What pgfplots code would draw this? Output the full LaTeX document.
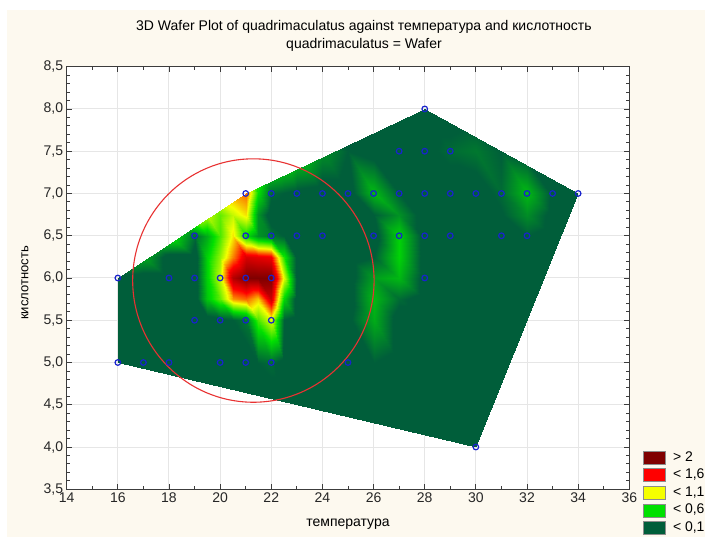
\documentclass[border=0pt]{standalone}
\usepackage{fontspec}
\setmainfont{Liberation Sans}
\usepackage{pgfplots}
\pgfplotsset{compat=1.18}
\definecolor{cream}{RGB}{253,249,239}
\definecolor{dkgreen}{RGB}{0,94,58}
\definecolor{brgreen}{RGB}{0,224,0}
\definecolor{wyellow}{RGB}{245,255,0}
\definecolor{wred}{RGB}{255,0,0}
\definecolor{dkred}{RGB}{128,0,0}
\definecolor{ptblue}{RGB}{25,35,205}
\definecolor{axgray}{RGB}{60,60,60}
\definecolor{gridgray}{RGB}{230,230,230}
\definecolor{circred}{RGB}{232,50,50}
\begin{document}
\begin{tikzpicture}
\path[use as bounding box, fill=white] (-66.7pt,-47.7pt) rectangle (638.3pt,489.3pt);
\fill[cream] (-59.7pt,-47.7pt) rectangle (638.3pt,479.3pt);
\begin{axis}[
  at={(0pt,0pt)}, anchor=south west,
  scale only axis, width=562.6pt, height=422.6pt,
  xmin=14, xmax=36, ymin=3.5, ymax=8.5,
  xtick={14,16,...,36}, ytick={3.5,4,...,8.5},
  minor x tick num=1, minor y tick num=4,
  tick align=inside, xtick pos=both, ytick pos=both,
  major tick length=5pt, minor tick length=3pt,
  grid=major, major grid style={gridgray, line width=1pt},
  axis line style={axgray, line width=1.3pt},
  every tick/.style={axgray, line width=0.9pt},
  axis background/.style={fill=white},
  y tick label style={/pgf/number format/.cd, fixed, fixed zerofill, precision=1, use comma},
  /pgf/number format/assume math mode=true,
  tick label style={font=\fontsize{14}{16}\selectfont, text=black!85},
  colormap={wafer}{rgb255(0cm)=(0,94,58) rgb255(1cm)=(0,94,58) rgb255(6cm)=(0,224,0) rgb255(11cm)=(245,255,0) rgb255(16cm)=(255,0,0) rgb255(21cm)=(128,0,0)},
  point meta min=0, point meta max=2.1,
  title={3D Wafer Plot of quadrimaculatus against температура and кислотность\\quadrimaculatus = Wafer},
  title style={align=center, font=\fontsize{14}{17.6}\selectfont, at={(axis description cs:0.5284,1)}, anchor=south, inner sep=0pt, yshift=9.5pt},
  xlabel={температура},
  xlabel style={at={(axis description cs:0.5,-0.0821)}, anchor=center, font=\fontsize{14}{16}\selectfont},
  ylabel={кислотность},
  ylabel style={at={(axis description cs:-0.0741,0.488)}, anchor=center, font=\fontsize{13}{16}\selectfont},
  legend style={at={(axis description cs:1,0)}, anchor=north west, xshift=13.4pt, yshift=38.5pt, draw=none, fill=none, inner sep=0pt, outer sep=0pt, row sep=4pt, column sep=7.7pt, font=\fontsize{14}{16}\selectfont, nodes={inner sep=0pt, text height=10pt, text depth=3pt}},
  legend cell align=left,
]
\addlegendimage{legend image code/.code={\filldraw[fill=dkred, draw=black!45, line width=0.6pt] (0pt,-6.5pt) rectangle (22pt,6.5pt);}}
\addlegendentry{> 2}
\addlegendimage{legend image code/.code={\filldraw[fill=wred, draw=black!45, line width=0.6pt] (0pt,-6.5pt) rectangle (22pt,6.5pt);}}
\addlegendentry{< 1,6}
\addlegendimage{legend image code/.code={\filldraw[fill=wyellow, draw=black!45, line width=0.6pt] (0pt,-6.5pt) rectangle (22pt,6.5pt);}}
\addlegendentry{< 1,1}
\addlegendimage{legend image code/.code={\filldraw[fill=brgreen, draw=black!45, line width=0.6pt] (0pt,-6.5pt) rectangle (22pt,6.5pt);}}
\addlegendentry{< 0,6}
\addlegendimage{legend image code/.code={\filldraw[fill=dkgreen, draw=black!45, line width=0.6pt] (0pt,-6.5pt) rectangle (22pt,6.5pt);}}
\addlegendentry{< 0,1}

\begin{scope}
\clip (axis cs:16,6) -- (axis cs:21,7) -- (axis cs:28,8) -- (axis cs:34,7) -- (axis cs:30,4) -- (axis cs:16,5) -- cycle;
\addplot[surf, shader=interp, mesh/cols=23, point meta=explicit, forget plot] coordinates {
(16,4)[0] (17,4)[0] (18,4)[0] (19,4)[0] (19.5,4)[0] (20,4)[0] (20.5,4)[0] (21,4)[0] (21.5,4)[0] (22,4)[0] (22.5,4)[0] (23,4)[0] (24,4)[0] (25,4)[0] (26,4)[0] (27,4)[0] (28,4)[0] (29,4)[0] (30,4)[0] (31,4)[0] (32,4)[0] (33,4)[0] (34,4)[0]

(16,4.5)[0] (17,4.5)[0] (18,4.5)[0] (19,4.5)[0] (19.5,4.5)[0] (20,4.5)[0] (20.5,4.5)[0] (21,4.5)[0] (21.5,4.5)[0] (22,4.5)[0] (22.5,4.5)[0] (23,4.5)[0] (24,4.5)[0] (25,4.5)[0] (26,4.5)[0] (27,4.5)[0] (28,4.5)[0] (29,4.5)[0] (30,4.5)[0] (31,4.5)[0] (32,4.5)[0] (33,4.5)[0] (34,4.5)[0]

(16,5)[0] (17,5)[0] (18,5)[0] (19,5)[0] (19.5,5)[0] (20,5)[0] (20.5,5)[0] (21,5)[0] (21.5,5)[0.1] (22,5)[0.15] (22.5,5)[0] (23,5)[0] (24,5)[0] (25,5)[0.1] (26,5)[0.1] (27,5)[0] (28,5)[0] (29,5)[0] (30,5)[0] (31,5)[0] (32,5)[0] (33,5)[0] (34,5)[0]

(16,5.5)[0] (17,5.5)[0] (18,5.5)[0] (19,5.5)[0] (19.5,5.5)[0] (20,5.5)[0.05] (20.5,5.5)[0.1] (21,5.5)[0.2] (21.5,5.5)[0.75] (22,5.5)[1.05] (22.5,5.5)[0.1] (23,5.5)[0] (24,5.5)[0] (25,5.5)[0.05] (26,5.5)[0.4] (27,5.5)[0] (28,5.5)[0] (29,5.5)[0] (30,5.5)[0] (31,5.5)[0] (32,5.5)[0] (33,5.5)[0] (34,5.5)[0]

(16,5.75)[0] (17,5.75)[0] (18,5.75)[0] (19,5.75)[0] (19.5,5.75)[0.5] (20,5.75)[0.8] (20.5,5.75)[1.3] (21,5.75)[1.4] (21.5,5.75)[1.2] (22,5.75)[1.8] (22.5,5.75)[0.55] (23,5.75)[0] (24,5.75)[0] (25,5.75)[0] (26,5.75)[0.45] (27,5.75)[0.15] (28,5.75)[0] (29,5.75)[0] (30,5.75)[0] (31,5.75)[0] (32,5.75)[0] (33,5.75)[0] (34,5.75)[0]

(16,6)[0] (17,6)[0] (18,6)[0] (19,6)[0] (19.5,6)[0.55] (20,6)[1.0] (20.5,6)[1.9] (21,6)[2.4] (21.5,6)[2.45] (22,6)[2.35] (22.5,6)[1.05] (23,6)[0.05] (24,6)[0] (25,6)[0] (26,6)[0.35] (27,6)[0.45] (28,6)[0] (29,6)[0] (30,6)[0] (31,6)[0] (32,6)[0] (33,6)[0] (34,6)[0]

(16,6.25)[0.5] (17,6.25)[0.4] (18,6.25)[0] (19,6.25)[0] (19.5,6.25)[0.55] (20,6.25)[0.9] (20.5,6.25)[1.35] (21,6.25)[1.75] (21.5,6.25)[1.7] (22,6.25)[1.65] (22.5,6.25)[0.65] (23,6.25)[0.05] (24,6.25)[0] (25,6.25)[0] (26,6.25)[0.1] (27,6.25)[0.55] (28,6.25)[0] (29,6.25)[0] (30,6.25)[0] (31,6.25)[0] (32,6.25)[0.05] (33,6.25)[0] (34,6.25)[0]

(16,6.5)[0.6] (17,6.5)[0.8] (18,6.5)[0.7] (19,6.5)[0.15] (19.5,6.5)[0.4] (20,6.5)[0.75] (20.5,6.5)[1.15] (21,6.5)[0.6] (21.5,6.5)[0.3] (22,6.5)[0.2] (22.5,6.5)[0.1] (23,6.5)[0] (24,6.5)[0] (25,6.5)[0] (26,6.5)[0] (27,6.5)[0.55] (28,6.5)[0] (29,6.5)[0] (30,6.5)[0] (31,6.5)[0] (32,6.5)[0.1] (33,6.5)[0] (34,6.5)[0]

(16,6.75)[0.5] (17,6.75)[0.8] (18,6.75)[1.0] (19,6.75)[1.1] (19.5,6.75)[1.0] (20,6.75)[0.8] (20.5,6.75)[1.0] (21,6.75)[1.15] (21.5,6.75)[0.3] (22,6.75)[0] (22.5,6.75)[0] (23,6.75)[0] (24,6.75)[0] (25,6.75)[0] (26,6.75)[0.1] (27,6.75)[0.3] (28,6.75)[0] (29,6.75)[0] (30,6.75)[0] (31,6.75)[0.08] (32,6.75)[0.28] (33,6.75)[0.03] (34,6.75)[0]

(16,7)[0.4] (17,7)[0.7] (18,7)[1.0] (19,7)[1.2] (19.5,7)[1.2] (20,7)[1.2] (20.5,7)[1.3] (21,7)[1.4] (21.5,7)[0.6] (22,7)[0.15] (22.5,7)[0.1] (23,7)[0.05] (24,7)[0] (25,7)[0] (26,7)[0.45] (27,7)[0.1] (28,7)[0] (29,7)[0] (30,7)[0] (31,7)[0.15] (32,7)[0.45] (33,7)[0.05] (34,7)[0]

(16,7.5)[0.3] (17,7.5)[0.4] (18,7.5)[0.5] (19,7.5)[0.5] (19.5,7.5)[0.7] (20,7.5)[0.9] (20.5,7.5)[1.0] (21,7.5)[1.0] (21.5,7.5)[1.0] (22,7.5)[0.9] (22.5,7.5)[0.8] (23,7.5)[0.6] (24,7.5)[0.3] (25,7.5)[0.1] (26,7.5)[0] (27,7.5)[0] (28,7.5)[0.05] (29,7.5)[0.15] (30,7.5)[0.2] (31,7.5)[0.1] (32,7.5)[0] (33,7.5)[0] (34,7.5)[0]

(16,8)[0] (17,8)[0] (18,8)[0] (19,8)[0] (19.5,8)[0] (20,8)[0] (20.5,8)[0] (21,8)[0] (21.5,8)[0] (22,8)[0] (22.5,8)[0] (23,8)[0] (24,8)[0] (25,8)[0] (26,8)[0] (27,8)[0] (28,8)[0] (29,8)[0] (30,8)[0] (31,8)[0] (32,8)[0] (33,8)[0] (34,8)[0]
};
\end{scope}

\addplot[only marks, mark=o, mark size=2.8pt, mark options={ptblue, line width=1.2pt}, forget plot] coordinates {
(28,8)
(27,7.5) (28,7.5) (29,7.5)
(21,7) (22,7) (23,7) (24,7) (25,7) (26,7) (27,7) (28,7) (29,7) (30,7) (31,7) (32,7) (33,7) (34,7)
(19,6.5) (21,6.5) (22,6.5) (23,6.5) (24,6.5) (26,6.5) (27,6.5) (28,6.5) (29,6.5) (31,6.5) (32,6.5)
(16,6) (18,6) (19,6) (20,6) (21,6) (22,6) (28,6)
(19,5.5) (20,5.5) (21,5.5) (22,5.5)
(16,5) (17,5) (18,5) (20,5) (21,5) (22,5) (25,5)
(30,4)
};
\draw[circred, line width=1.1pt] (axis cs:21.3,5.97) ellipse [x radius=4.72, y radius=1.44];
\end{axis}
\end{tikzpicture}
\end{document}
